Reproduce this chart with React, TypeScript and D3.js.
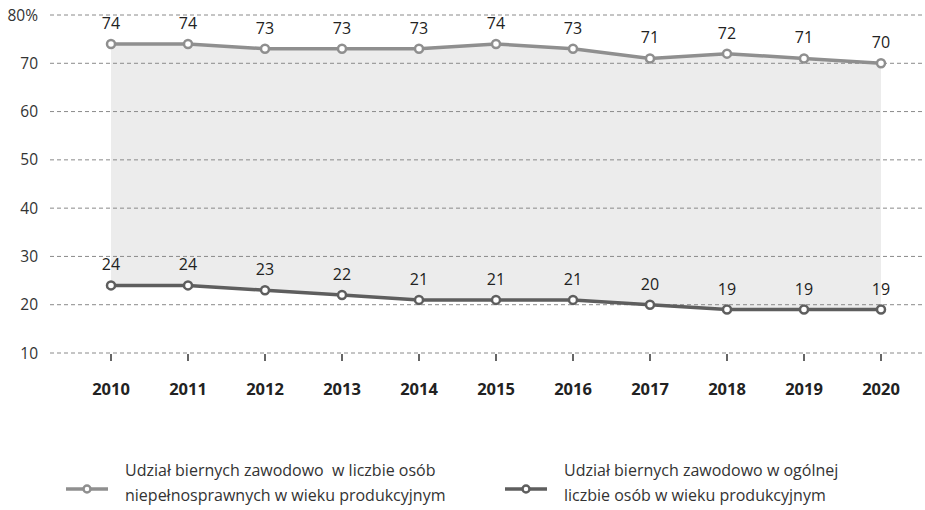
import { useEffect, useRef } from 'react';
import * as d3 from 'd3';

const years = ['2010', '2011', '2012', '2013', '2014', '2015', '2016', '2017', '2018', '2019', '2020'];
const disabledInactive = [74, 74, 73, 73, 73, 74, 73, 71, 72, 71, 70];
const totalInactive = [24, 24, 23, 22, 21, 21, 21, 20, 19, 19, 19];
const yTicks = [10, 20, 30, 40, 50, 60, 70, 80];
const legendLabels = [
  ['Udział biernych zawodowo  w liczbie osób', 'niepełnosprawnych w wieku produkcyjnym'],
  ['Udział biernych zawodowo w ogólnej', 'liczbie osób w wieku produkcyjnym'],
];

const W = 925;
const H = 510;
const FONT = '"Open Sans", "Noto Sans", sans-serif';
const LIGHT = '#8f8f8f';
const DARK = '#5e5e5e';

export default function App() {
  const svgRef = useRef<SVGSVGElement>(null);

  useEffect(() => {
    if (!svgRef.current) return;
    const svg = d3.select(svgRef.current);
    svg.selectAll('*').remove();

    const x = d3.scalePoint<string>().domain(years).range([111, 881]);
    const y = d3.scaleLinear().domain([10, 80]).range([353, 15]);

    // shaded band between series
    const area = d3.area<number>()
      .x((_, i) => x(years[i]) as number)
      .y0((_, i) => y(totalInactive[i]))
      .y1((d) => y(d));
    svg.append('path')
      .attr('d', area(disabledInactive) || '')
      .attr('fill', '#ececec');

    // gridlines
    svg.append('g').selectAll('line').data(yTicks).join('line')
      .attr('x1', 50).attr('x2', 922)
      .attr('y1', (d) => y(d)).attr('y2', (d) => y(d))
      .attr('stroke', '#8a8a8a')
      .attr('stroke-width', 1)
      .attr('stroke-dasharray', '4,3');

    // y labels
    svg.append('g').selectAll('text').data(yTicks).join('text')
      .attr('x', 38).attr('y', (d) => y(d) + 5.5)
      .attr('text-anchor', 'end')
      .attr('font-family', FONT).attr('font-size', 15.5).attr('fill', '#333')
      .text((d) => (d === 80 ? '80%' : String(d)));

    // x ticks and labels
    svg.append('g').selectAll('line').data(years).join('line')
      .attr('x1', (d) => x(d) as number).attr('x2', (d) => x(d) as number)
      .attr('y1', 354).attr('y2', 361)
      .attr('stroke', '#333').attr('stroke-width', 1.5);
    svg.append('g').selectAll('text').data(years).join('text')
      .attr('x', (d) => x(d) as number).attr('y', 395)
      .attr('text-anchor', 'middle')
      .attr('font-family', FONT).attr('font-size', 16.5).attr('font-weight', 'bold').attr('fill', '#222')
      .text((d) => d);

    const line = d3.line<number>()
      .x((_, i) => x(years[i]) as number)
      .y((d) => y(d));

    const series = [
      { values: disabledInactive, color: LIGHT },
      { values: totalInactive, color: DARK },
    ];

    series.forEach(({ values, color }) => {
      svg.append('path')
        .attr('d', line(values) || '')
        .attr('fill', 'none')
        .attr('stroke', color)
        .attr('stroke-width', 3.5);
      svg.append('g').selectAll('circle').data(values).join('circle')
        .attr('cx', (_, i) => x(years[i]) as number)
        .attr('cy', (d) => y(d))
        .attr('r', 4)
        .attr('fill', '#fff')
        .attr('stroke', color)
        .attr('stroke-width', 2.5);
      svg.append('g').selectAll('text').data(values).join('text')
        .attr('x', (_, i) => x(years[i]) as number)
        .attr('y', (d) => y(d) - 15)
        .attr('text-anchor', 'middle')
        .attr('font-family', FONT).attr('font-size', 16).attr('fill', '#222')
        .text((d) => d);
    });

    // legend
    const legendX = [66, 505];
    legendLabels.forEach((lines, i) => {
      const g = svg.append('g').attr('transform', `translate(${legendX[i]}, 489)`);
      const color = series[i].color;
      g.append('line').attr('x1', 0).attr('x2', 42).attr('y1', 0).attr('y2', 0)
        .attr('stroke', color).attr('stroke-width', 3.5);
      g.append('circle').attr('cx', 21).attr('cy', 0).attr('r', 3.5)
        .attr('fill', '#fff').attr('stroke', color).attr('stroke-width', 2.5);
      lines.forEach((t, j) => {
        g.append('text')
          .attr('x', 59).attr('y', -13 + j * 25)
          .attr('font-family', FONT).attr('font-size', 16).attr('fill', '#333')
          .style('white-space', 'pre')
          .text(t);
      });
    });
  }, []);

  return (
    <svg
      ref={svgRef}
      width={W}
      height={H}
      viewBox={`0 0 ${W} ${H}`}
      style={{ position: 'absolute', left: 0, top: 0, background: '#fff' }}
    />
  );
}
